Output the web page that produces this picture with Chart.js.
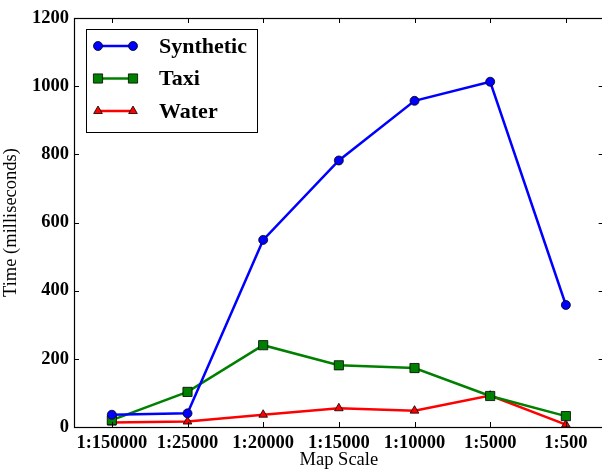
<!DOCTYPE html>
<html>
<head>
<meta charset="utf-8">
<script src="https://cdn.jsdelivr.net/npm/chart.js@4"></script>
<style>
  html, body { margin: 0; padding: 0; background: #fff; overflow: hidden; }
  #wrap { width: 611px; height: 473px; }
</style>
</head>
<body>
<div id="wrap"><canvas id="myChart" width="611" height="473"></canvas></div>
<script>
// datos
const escalas = ['1:150000', '1:25000', '1:20000', '1:15000', '1:10000', '1:5000', '1:500'];
const synthetic = [36, 40, 549, 782, 957, 1013, 358];
const taxi = [20, 103, 240, 181, 173, 91, 32];
const water = [13, 16, 36, 55, 48, 92, 7];
const yTicks = [0, 200, 400, 600, 800, 1000, 1200];

const serif = "'Liberation Serif', 'Times New Roman', serif";

// marco completo y ticks hacia dentro, estilo matplotlib clasico
const marcoPlugin = {
  id: 'marco',
  afterDatasetsDraw(chart) {
    const { ctx, chartArea: a, scales } = chart;
    ctx.save();
    ctx.strokeStyle = '#000';
    ctx.lineWidth = 1;
    ctx.beginPath();
    scales.x.ticks.forEach((t, i) => {
      const x = Math.round(scales.x.getPixelForTick(i)) + 0.5;
      ctx.moveTo(x, a.bottom); ctx.lineTo(x, a.bottom - 5);
      ctx.moveTo(x, a.top); ctx.lineTo(x, a.top + 5);
    });
    yTicks.forEach(v => {
      const y = Math.round(scales.y.getPixelForValue(v)) + 0.5;
      ctx.moveTo(a.left, y); ctx.lineTo(a.left + 5, y);
      ctx.moveTo(a.right, y); ctx.lineTo(a.right - 5, y);
    });
    ctx.stroke();
    ctx.lineWidth = 1.2;
    ctx.strokeRect(Math.round(a.left) + 0.5, Math.round(a.top) + 0.5,
      Math.round(a.right - a.left), Math.round(a.bottom - a.top));
    ctx.restore();
  }
};

// leyenda dibujada dentro del area
const leyendaPlugin = {
  id: 'leyenda',
  afterDraw(chart) {
    const { ctx } = chart;
    const bx = 86, by = 29, bw = 171, bh = 103;
    ctx.save();
    ctx.fillStyle = '#fff';
    ctx.fillRect(bx, by, bw, bh);
    ctx.strokeStyle = '#000';
    ctx.lineWidth = 1;
    ctx.strokeRect(bx + 0.5, by + 0.5, bw, bh);
    chart.data.datasets.forEach((ds, i) => {
      const y = 46 + i * 32.5;
      ctx.strokeStyle = ds.borderColor;
      ctx.lineWidth = ds.borderWidth;
      ctx.beginPath();
      ctx.moveTo(98, y); ctx.lineTo(133, y);
      ctx.stroke();
      ctx.fillStyle = ds.pointBackgroundColor;
      ctx.strokeStyle = '#000';
      ctx.lineWidth = 0.8;
      [98, 133].forEach(x => {
        Chart.helpers.drawPoint(ctx, { pointStyle: ds.pointStyle, radius: ds.pointRadius, rotation: 0, borderWidth: 0.8 }, x, y);
      });
      ctx.fillStyle = '#000';
      ctx.font = 'bold 22px ' + serif;
      ctx.textBaseline = 'middle';
      ctx.fillText(ds.label, 159, y + 1);
    });
    ctx.restore();
  }
};

const data = {
  labels: escalas,
  datasets: [
    {
      label: 'Synthetic', data: synthetic,
      borderColor: '#0000ff', backgroundColor: '#0000ff', pointBackgroundColor: '#0000ff',
      pointBorderColor: '#000', pointBorderWidth: 0.8, borderWidth: 2.5,
      pointStyle: 'circle', pointRadius: 4.5
    },
    {
      label: 'Taxi', data: taxi,
      borderColor: '#008000', backgroundColor: '#008000', pointBackgroundColor: '#008000',
      pointBorderColor: '#000', pointBorderWidth: 0.8, borderWidth: 2.5,
      pointStyle: 'rect', pointRadius: 6.5
    },
    {
      label: 'Water', data: water,
      borderColor: '#ff0000', backgroundColor: '#ff0000', pointBackgroundColor: '#ff0000',
      pointBorderColor: '#000', pointBorderWidth: 0.8, borderWidth: 2.5,
      pointStyle: 'triangle', pointRadius: 5
    }
  ]
};

const options = {
  responsive: false,
  animation: false,
  layout: { padding: { left: 0, right: 2.5, top: 18, bottom: 0 } },
  plugins: { legend: { display: false }, tooltip: { enabled: false } },
  scales: {
    x: {
      offset: true,
      grid: { display: false, drawTicks: false },
      border: { display: false },
      ticks: { color: '#000', font: { family: serif, size: 18.5, weight: 'bold' }, padding: 5, maxRotation: 0, autoSkip: false },
      title: { display: true, text: 'Map Scale', color: '#000', font: { family: serif, size: 18.5 }, padding: { top: 0, bottom: 2 } },
      afterFit(scale) {
        scale.height = 46;
        scale.paddingLeft = 0;
        scale.paddingRight = 0;
      }
    },
    y: {
      min: 0, max: 1200,
      grid: { display: false, drawTicks: false },
      border: { display: false },
      ticks: {
        stepSize: 200, color: '#000', font: { family: serif, size: 18.5, weight: 'bold' }, padding: 5,
        callback: (v) => String(v)
      },
      title: { display: true, text: 'Time (milliseconds)', color: '#000', font: { family: serif, size: 18.5 }, padding: { top: 0, bottom: 0 } },
      afterFit(scale) { scale.width = 74; }
    }
  }
};

new Chart(document.getElementById('myChart'), {
  type: 'line',
  data: data,
  options: options,
  plugins: [marcoPlugin, leyendaPlugin]
});
</script>
</body>
</html>
